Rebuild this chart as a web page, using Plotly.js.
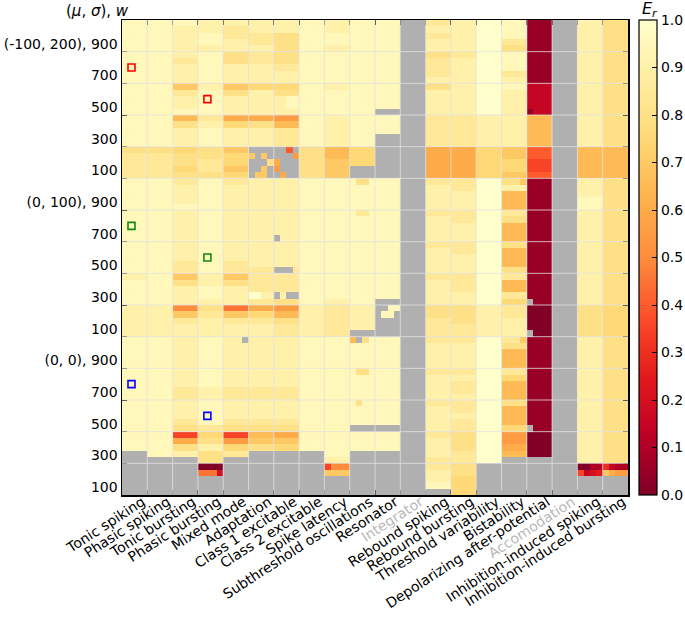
<!DOCTYPE html>
<html>
<head>
<meta charset="utf-8">
<script src="https://cdn.plot.ly/plotly-3.0.1.min.js"></script>
<style>
  html, body { margin: 0; padding: 0; background: #fff; }
  #chart { width: 685px; height: 623px; }
</style>
</head>
<body>
<div id="chart"></div>
<script>
// behaviours along x; the greyed ones have no data
const behaviors = [
  'Tonic spiking', 'Phasic spiking', 'Tonic bursting', 'Phasic bursting', 'Mixed mode',
  'Adaptation', 'Class 1 excitable', 'Class 2 excitable', 'Spike latency',
  'Subthreshold oscillations', 'Resonator', 'Integrator', 'Rebound spiking',
  'Rebound bursting', 'Threshold variability', 'Bistability',
  'Depolarizing after-potential', 'Accomodation', 'Inhibition-induced spiking',
  'Inhibition-induced bursting'
];
const greyed = ['Integrator', 'Accomodation'];

// y axis: (mu, sigma) groups, each split in w bands (top to bottom)
const groups = ['(-100, 200)', '(0, 100)', '(0, 0)'];
const wLabels = [900, 700, 500, 300, 100];

const cbTicks = [0, 0.1, 0.2, 0.3, 0.4, 0.5, 0.6, 0.7, 0.8, 0.9, 1.0];

// E_r per behaviour, one char per row (top -> bottom), 5 rows per w band.
// a..u = 0.00..1.00 in 0.05 steps, '.' = no value
const er = [
  'ttttt ttttt ttttt ttttt qrrrr | ttttt ttttt ttttt stttt sssss | ttttt ttttt ttttt ttt.. .....',
  'ttttt ttttt ttttt ttttt qrrrr | ttttt ttttt ttttt ttttt sssss | ttttt ttttt ttttt tttt. .....',
  'tssss srsss orsst nqsss pqqpq | rssst sssss sssrr oqsss korss | sssss sssrr sssrq hmqs. .....',
  'sstts ttttt stttt rsttt qqrrq | ttttt ttttt ttttt sstts qrsss | ttttt tttss ttttr pqsqq aj...',
  'srrss qqsss oqsss mpsss oppop | rssss sssss sssrr oqsss jorss | sssss sssrr sssrq hlpr. .....',
  'ssrrs rrsss pssss mqsss ..... | sssss sssss ssssr rrrsr mprss | sssss sssrr sssrq noq.. .....',
  'ssqqq qqrss pqsss lnrrr ..... | sssss sssss ssssr rrrsq lnqrr | sssss sssrr sssrq mop.. .....',
  'ttttt ttttt ttttt ttttt qqqqq | ttttt ttttt ttttt ttttt sssss | ttttt ttttt ttttt ttt.. .....',
  'sstts ttttt stttt sssss nnooo | ttttt ttttt ttttt tttts rrrrr | ttttt ttttt ttttt tttts ko...',
  'ttttt ttttt ttttt ttttt ppp.. | ttttt ttttt ttttt ttttt ssss. | ttttt ttttt tttt. ttt.. .....',
  'ttttt ttttt tttt. ttt.. ..... | ttttt ttttt ttttt tttt. ..... | ttttt ttttt tttt. ttt.. .....',
  '..... ..... ..... ..... ..... | ..... ..... ..... ..... ..... | ..... ..... ..... ..... .....',
  'rsrss qrrrs qssss rrrrr mmmmm | rssss rssss rssss rssss qqrrr | rssss rssss rssss rsssr rsst.',
  'sssss rssss sssss rrrrr mmmmm | rrsss rrsss rrsss rrrss qqqrr | rssss rsrrs rrsrr qqqrr qqppp',
  'uuuuu uuuuu uuuuu sssss ppppp | uuuuu uuuuu uuuuu uuuuu sssss | uuuuu uuuuu uuuuu uuuuu .....',
  'tttrq tttrs tssss sssss ooppo | qsnnn rqnnn qnnnq rnnrp rrsss | rqnnn rpnnn qnnnp llmn. .....',
  'bbbbb bbbbb ddddd nnnnn iihhi | bbbbb bbbbb bbbbb bbbbb aaaaa | bbbbb bbbbb bbbbb aaaa. .....',
  '..... ..... ..... ..... ..... | ..... ..... ..... ..... ..... | ..... ..... ..... ..... .....',
  'sssss sssss sssss sssss nnnnn | ssstt sssss sssss sssss qqqqq | sssss sssss sssss sssss af...',
  'qqqqq qqqqq qqqqq qqqqq nnnnn | qqqqq qqqqq qqqqq qqqqq ppppp | qqqqq qqqqq qqqqq qqqqq dm...'
];

// cells that differ inside a behaviour's 4 sub-columns: [behaviour, sub, row, level]
const cellPatches = [
  [5, 0, 21, 'o'], [5, 2, 21, 'o'], [5, 3, 22, 'q'], [5, 2, 23, 'o'], [5, 1, 24, 'o'], [5, 2, 24, 'o'],
  [6, 2, 20, 'i'], [6, 3, 21, 'l'], [6, 0, 22, 'm'], [6, 0, 23, 'l'], [6, 1, 24, 'm'],
  [6, 2, 12, 't'], [6, 3, 12, 't'], [6, 2, 13, 't'], [6, 3, 13, 't'],
  [6, 0, 34, '.'], [6, 0, 39, '.'], [6, 1, 39, '.'], [6, 2, 39, '.'],
  [6, 0, 43, '.'], [6, 2, 43, '.'], [6, 3, 43, '.'],
  [5, 0, 43, 'u'], [5, 1, 43, 'u'],
  [4, 3, 50, '.'],
  [3, 3, 71, 'e'],
  [8, 0, 70, 'h'],
  [9, 1, 25, 'q'], [9, 2, 25, 'q'], [9, 1, 30, 'r'], [9, 2, 30, 'r'],
  [9, 0, 50, 'n'], [9, 1, 50, '.'], [9, 2, 50, 'q'], [9, 1, 55, 'q'], [9, 2, 55, 'q'], [9, 1, 60, 'q'],
  [10, 2, 45, 't'], [10, 3, 45, 't'], [10, 1, 46, 't'], [10, 2, 46, 't'],
  [15, 3, 25, 'o'], [15, 3, 50, 'o'],
  [16, 0, 14, 'b'], [16, 0, 44, '.'], [16, 0, 49, '.'], [16, 0, 64, '.'],
  [18, 2, 70, 'c'], [18, 3, 70, 'c'], [18, 0, 71, 'h'], [18, 1, 71, 'd'], [18, 2, 71, 'e'],
  [19, 0, 70, 'g'], [19, 2, 70, 'c'], [19, 3, 70, 'c'], [19, 0, 71, 'o'], [19, 2, 71, 'l'], [19, 3, 71, 'l']
];

// highlighted example cells (behaviour, sub-column, row)
const markBehavior = [0, 3, 0, 3, 0, 3];
const markSub = [1, 1, 1, 1, 1, 1];
const markRow = [7, 12, 32, 37, 57, 62];
const markColor = ['#ff0000', '#ff0000', '#118811', '#118811', '#0000ff', '#0000ff'];

const SUB = 4, BAND = 5;
const NROW = groups.length * wLabels.length * BAND;
const NCOL = behaviors.length * SUB;

const level = (c) => (c === '.' ? null : (c.charCodeAt(0) - 97) * 0.05);

const grid = [];
for (let r = 0; r < NROW; r++) grid.push(new Array(NCOL).fill(null));
er.forEach((s, b) => {
  const col = s.replace(/[\s|]/g, '');
  for (let r = 0; r < NROW; r++)
    for (let k = 0; k < SUB; k++) grid[r][b * SUB + k] = level(col[r]);
});
cellPatches.forEach(([b, k, r, c]) => { grid[r][b * SUB + k] = level(c); });
const z = grid.slice().reverse(); // heatmap rows go bottom-up

const ylorrd = [
  [0, '#800026'], [0.125, '#bd0026'], [0.25, '#e31a1c'], [0.375, '#fc4e2a'],
  [0.5, '#fd8d3c'], [0.625, '#feb24c'], [0.75, '#fed976'], [0.875, '#ffeda0'], [1, '#ffffcc']
];

// y tick labels sit at the lower edge of each w band
const yTickVals = [], yTickText = [];
groups.forEach((g, gi) => {
  wLabels.forEach((w, wi) => {
    const bandIdx = gi * wLabels.length + wi;
    yTickVals.push(NROW - (bandIdx + 1) * BAND);
    yTickText.push(wi === 0 ? `${g}, ${w}` : `${w}`);
  });
});

const xTickVals = behaviors.map((_, i) => (i + 1) * SUB);
const xTickText = behaviors.map((n) => greyed.includes(n) ? `<span style="color:#b8b8b8">${n}</span>` : n);

const gridLine = 'rgba(226,226,226,0.8)';
const shapes = [];
for (let i = 1; i < behaviors.length; i++)
  shapes.push({ type: 'line', xref: 'x', yref: 'y', x0: i * SUB, x1: i * SUB, y0: 0, y1: NROW, line: { color: gridLine, width: 1 }, layer: 'above' });
for (let j = 1; j < groups.length * wLabels.length; j++)
  shapes.push({ type: 'line', xref: 'x', yref: 'y', x0: 0, x1: NCOL, y0: j * BAND, y1: j * BAND, line: { color: gridLine, width: 1 }, layer: 'above' });

const traces = [
  {
    type: 'heatmap', z, x0: 0.5, dx: 1, y0: 0.5, dy: 1,
    zmin: 0, zmax: 1, colorscale: ylorrd, zsmooth: false, hoverinfo: 'skip',
    colorbar: {
      thickness: 18, len: 1, lenmode: 'fraction', y: 0, yanchor: 'bottom', ypad: 0,
      xref: 'container', x: 639 / 685, xanchor: 'left', xpad: 0,
      outlinecolor: '#000', outlinewidth: 1.2,
      tickvals: cbTicks, ticktext: cbTicks.map((v) => v.toFixed(1)),
      ticks: 'inside', ticklen: 5, tickcolor: '#000', tickfont: { size: 14, color: '#000' },
    },
  },
  {
    type: 'scatter', mode: 'markers', hoverinfo: 'skip',
    x: markBehavior.map((b, i) => b * SUB + markSub[i] + 0.5),
    y: markRow.map((r) => NROW - r - 0.5),
    marker: { symbol: 'square-open', size: 7, color: markColor, line: { width: 1.6, color: markColor } },
  },
];

const axisCommon = {
  ticks: 'inside', ticklen: 5, tickwidth: 1, tickcolor: '#000',
  showline: true, linecolor: '#000', linewidth: 1.5, mirror: 'ticks',
  showgrid: false, zeroline: false, fixedrange: true,
  tickfont: { size: 14, color: '#000' },
};

const layout = {
  width: 685, height: 623,
  margin: { l: 122, r: 57, t: 20, b: 128 },
  paper_bgcolor: '#ffffff', plot_bgcolor: '#b0b0b0',
  font: { family: 'DejaVu Sans', size: 14, color: '#000' },
  showlegend: false,
  xaxis: {
    ...axisCommon, range: [0, NCOL], tickvals: xTickVals, ticktext: xTickText, tickangle: -33,
    ticklabelshift: -5, ticklabelstandoff: -8,
  },
  yaxis: { ...axisCommon, range: [0, NROW], tickvals: yTickVals, ticktext: yTickText, ticklabelshift: -8 },
  shapes,
  annotations: [
    { xref: 'paper', yref: 'paper', x: 9 / 506, y: 1 + 9 / 475, xanchor: 'right', yanchor: 'middle',
      text: '(<i>μ</i>, <i>σ</i>), <i>w</i>', showarrow: false, font: { size: 15, color: '#000' } },
    { xref: 'paper', yref: 'paper', x: 528 / 506, y: 1 + 10 / 475, xanchor: 'center', yanchor: 'middle',
      text: '<i>E</i><sub><i>r</i></sub>', showarrow: false, font: { size: 16, color: '#000' } },
  ],
};

Plotly.newPlot('chart', traces, layout, { displayModeBar: false, staticPlot: true });
</script>
</body>
</html>
